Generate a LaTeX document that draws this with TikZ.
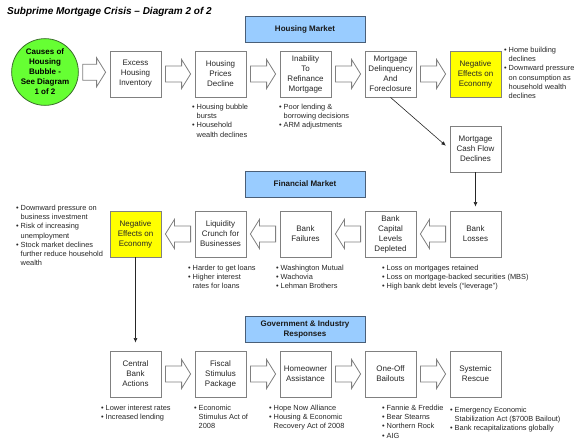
\documentclass[tikz,border=0pt]{standalone}
\usepackage{fontspec}
\setmainfont{Liberation Sans}
\usetikzlibrary{arrows.meta,calc}
\definecolor{hblue}{HTML}{99CCFF}
\definecolor{hblued}{HTML}{4A5F78}
\definecolor{cgreen}{HTML}{66FF33}
\definecolor{cgreend}{HTML}{3A6E2A}
\definecolor{nyellow}{HTML}{FFFF00}
\definecolor{bgray}{HTML}{808080}
\tikzset{
  % plain stage box, optional fill colour
  stage/.style   = {rectangle, draw=bgray, fill=#1, line width=0.8pt, align=center, inner sep=1pt,
                    minimum width=51pt, minimum height=46pt, font=\fontsize{8}{10}\selectfont, text=black!85},
  stage/.default = white,
  head/.style    = {rectangle, draw=hblued, fill=hblue, line width=1pt, align=center, inner sep=1pt,
                    minimum width=120pt, minimum height=26pt, font=\bfseries\fontsize{8}{10}\selectfont, text=black!90},
  cause/.style   = {circle, draw=cgreend, fill=cgreen, line width=0.8pt, minimum size=60pt, inner sep=0pt,
                    align=center, font=\bfseries\fontsize{8}{10}\selectfont},
  notes/.style   = {anchor=north west, inner sep=0pt, align=left, font=\fontsize{7.4}{9.2}\selectfont, text=black!85},
  link/.style    = {-{Latex[length=4.5pt,width=4pt]}, line width=0.6pt, black!85},
  fat/.style     = {draw=bgray, fill=white, line width=0.8pt, line join=miter},
}
\newcommand{\bpt}{\makebox[4.5pt][l]{\textbullet}}
\newcommand{\bsp}{\hspace*{4.5pt}}
% hollow block arrow from one anchor to another
\newcommand{\fatarrow}[2]{%
  \path ($(#1)!4pt!(#2)$) coordinate (fa);
  \path ($(fa -| #2)!4pt!(fa)$) coordinate (fb);
  \path ($(fb)!9pt!(fa)$) coordinate (fh);
  \draw[fat] ($(fa)+(0,-8)$) -- ($(fh)+(0,-8)$) -- ($(fh)+(0,-14.5)$) -- (fb)
    -- ($(fh)+(0,14.5)$) -- ($(fh)+(0,8)$) -- ($(fa)+(0,8)$) -- cycle;
}

\begin{document}
\begin{tikzpicture}[x=1pt,y=-1pt]
\useasboundingbox (0,0) rectangle (576,440);
\node[anchor=west, inner sep=0pt, font=\bfseries\itshape\fontsize{10}{12}\selectfont] (title) at (7,12)
  {Subprime Mortgage Crisis – Diagram 2 of 2};
% housing market
\node[head] (hmkt) at (305,29) {Housing Market};
\node[cause] (cause) at (45,72) {Causes of\\Housing\\Bubble -\\See Diagram\\1 of 2};
\node[stage] (inv) at (135.5,74) {Excess\\Housing\\Inventory};
\node[stage] (price) at (220.5,74) {Housing\\Prices\\Decline};
\node[stage] (refi) at (305.5,74) {Inability\\To\\Refinance\\Mortgage};
\node[stage] (delq) at (390.5,74) {Mortgage\\Delinquency\\And\\Foreclosure};
\node[stage=nyellow] (econa) at (475.5,74) {Negative\\Effects on\\Economy};
\node[stage] (cash) at (475.5,149) {Mortgage\\Cash Flow\\Declines};
\fatarrow{cause.east}{inv.west}
\fatarrow{inv.east}{price.west}
\fatarrow{price.east}{refi.west}
\fatarrow{refi.east}{delq.west}
\fatarrow{delq.east}{econa.west}
\draw[link, shorten >=5pt] (delq.south) -- (cash.west);
\node[notes] (pricenote) at (192,104) {\bpt Housing bubble\\\bsp bursts\\\bpt Household\\\bsp wealth declines};
\node[notes] (refinote) at (279,104) {\bpt Poor lending \&\\\bsp borrowing decisions\\\bpt ARM adjustments};
\node[notes] (econanote) at (504,47) {\bpt Home building\\\bsp declines\\\bpt Downward pressure\\\bsp on consumption as\\\bsp household wealth\\\bsp declines};
% financial market
\node[head] (fmkt) at (305,184) {Financial Market};
\node[stage=nyellow] (econb) at (135.5,234) {Negative\\Effects on\\Economy};
\node[stage] (liq) at (220.5,234) {Liquidity\\Crunch for\\Businesses};
\node[stage] (fail) at (305.5,234) {Bank\\Failures};
\node[stage] (capital) at (390.5,234) {Bank\\Capital\\Levels\\Depleted};
\node[stage] (loss) at (475.5,234) {Bank\\Losses};
\draw[link, shorten >=4pt] (cash.south) -- (loss.north);
\fatarrow{loss.west}{capital.east}
\fatarrow{capital.west}{fail.east}
\fatarrow{fail.west}{liq.east}
\fatarrow{liq.west}{econb.east}
\node[notes] (econbnote) at (16,205) {\bpt Downward pressure on\\\bsp business investment\\\bpt Risk of increasing\\\bsp unemployment\\\bpt Stock market declines\\\bsp further reduce household\\\bsp wealth};
\node[notes] (liqnote) at (188,265) {\bpt Harder to get loans\\\bpt Higher interest\\\bsp rates for loans};
\node[notes] (failnote) at (276,265) {\bpt Washington Mutual\\\bpt Wachovia\\\bpt Lehman Brothers};
\node[notes] (capnote) at (382,265) {\bpt Loss on mortgages retained\\\bpt Loss on mortgage-backed securities (MBS)\\\bpt High bank debt levels (``leverage'')};
% government and industry
\node[head] (gov) at (305,329.5) {Government \& Industry\\Responses};
\node[stage] (cb) at (135.5,374) {Central\\Bank\\Actions};
\node[stage] (fisc) at (220.5,374) {Fiscal\\Stimulus\\Package};
\node[stage] (home) at (305.5,374) {Homeowner\\Assistance};
\node[stage] (bail) at (390.5,374) {One-Off\\Bailouts};
\node[stage] (rescue) at (475.5,374) {Systemic\\Rescue};
\draw[link, shorten >=8pt] (econb.south) -- (cb.north);
\fatarrow{cb.east}{fisc.west}
\fatarrow{fisc.east}{home.west}
\fatarrow{home.east}{bail.west}
\fatarrow{bail.east}{rescue.west}
\node[notes] (cbnote) at (101,405) {\bpt Lower interest rates\\\bpt Increased lending};
\node[notes] (fiscnote) at (194,405) {\bpt Economic\\\bsp Stimulus Act of\\\bsp 2008};
\node[notes] (homenote) at (269,405) {\bpt Hope Now Alliance\\\bpt Housing \& Economic\\\bsp Recovery Act of 2008};
\node[notes] (bailnote) at (382,405) {\bpt Fannie \& Freddie\\\bpt Bear Stearns\\\bpt Northern Rock\\\bpt AIG};
\node[notes] (rescuenote) at (450,407) {\bpt Emergency Economic\\\bsp Stabilization Act (\$700B Bailout)\\\bpt Bank recapitalizations globally};
\end{tikzpicture}
\end{document}
